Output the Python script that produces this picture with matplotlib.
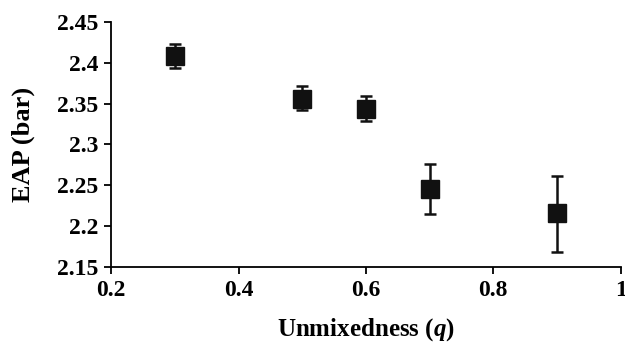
import matplotlib
matplotlib.use("Agg")
import matplotlib.pyplot as plt

q = [0.3, 0.5, 0.6, 0.7, 0.9]
eap = [2.408, 2.356, 2.344, 2.246, 2.216]
err_up = [0.015, 0.015, 0.015, 0.030, 0.046]
err_down = [0.014, 0.014, 0.015, 0.031, 0.047]

xticks = [0.2, 0.4, 0.6, 0.8, 1.0]
xlabels = ["0.2", "0.4", "0.6", "0.8", "1"]
yticks = [2.15, 2.2, 2.25, 2.3, 2.35, 2.4, 2.45]
ylabels = ["2.15", "2.2", "2.25", "2.3", "2.35", "2.4", "2.45"]

plt.rcParams["font.family"] = ["Liberation Serif", "DejaVu Serif"]
plt.rcParams["font.weight"] = "bold"
plt.rcParams["mathtext.fontset"] = "custom"
plt.rcParams["mathtext.it"] = "Liberation Serif:italic:bold"
plt.rcParams["mathtext.rm"] = "Liberation Serif:bold"

fig = plt.figure(figsize=(6.25, 3.42), dpi=100)
ax = fig.add_axes([0.178, 0.219, 0.815, 0.717])

ax.errorbar(q, eap, yerr=[err_down, err_up], fmt="s", color="#111111",
            markersize=12.5, ecolor="#111111", elinewidth=1.8, capsize=4.5,
            capthick=1.8)

ax.set_xlim(0.2, 1.0)
ax.set_ylim(2.15, 2.45)
ax.set_xticks(xticks)
ax.set_xticklabels(xlabels)
ax.set_yticks(yticks)
ax.set_yticklabels(ylabels)

for s in ["top", "right"]:
    ax.spines[s].set_visible(False)
for s in ["left", "bottom"]:
    ax.spines[s].set_linewidth(1.3)
ax.tick_params(direction="out", length=5, width=1.3, labelsize=17, pad=4)
for lab in ax.get_xticklabels() + ax.get_yticklabels():
    lab.set_fontweight("bold")

ax.set_xlabel("Unmixedness ($q$)", fontsize=18, fontweight="bold", labelpad=11)
ax.set_ylabel("EAP (bar)", fontsize=19, fontweight="bold", labelpad=16)

fig.savefig("out.png", dpi=100)
